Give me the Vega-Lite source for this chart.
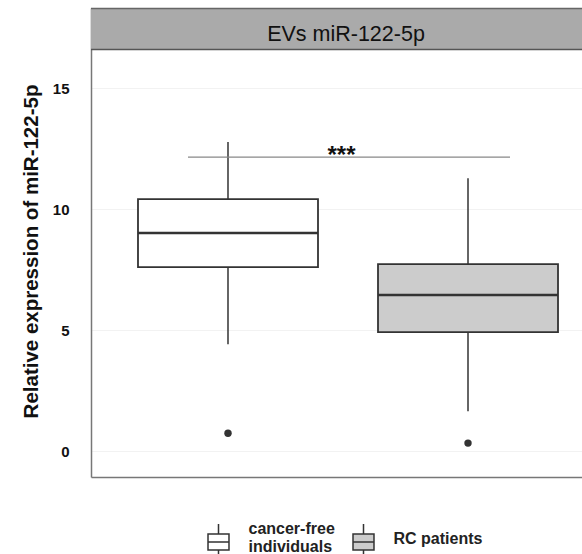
{
  "$schema": "https://vega.github.io/schema/vega-lite/v6.json",
  "autosize": {"type": "none"},
  "padding": {"left": 91, "top": 8, "right": 0, "bottom": 77},
  "width": 491,
  "height": 469,
  "background": "white",
  "config": {"view": {"stroke": null}, "font": "Liberation Sans"},
  "datasets": {
    "boxes": [
      {"group": "cancer-free individuals", "lower": 4.42, "q1": 7.60, "median": 9.01, "q3": 10.41, "upper": 12.77, "outlier": 0.74},
      {"group": "RC patients", "lower": 1.65, "q1": 4.92, "median": 6.45, "q3": 7.73, "upper": 11.28, "outlier": 0.33}
    ],
    "sig": [
      {"from": "cancer-free individuals", "to": "RC patients", "y": 12.15, "label": "***"}
    ],
    "strip": [
      {"label": "EVs miR-122-5p"}
    ]
  },
  "encoding": {
    "x": {
      "field": "group", "type": "nominal",
      "scale": {"domain": ["cancer-free individuals", "RC patients"], "range": [0, 514], "paddingInner": 0.25, "paddingOuter": 0.1958},
      "axis": {"labels": false, "ticks": false, "title": null, "grid": false, "domain": true, "domainColor": "#777777", "domainWidth": 1.5}
    }
  },
  "layer": [
    {
      "data": {"name": "strip"},
      "mark": {"type": "rect", "fill": "#aaaaaa"},
      "encoding": {
        "x": null,
        "y": {"datum": 16.59, "type": "quantitative",
          "scale": {"domain": [-1.07, 18.31], "nice": false, "zero": false},
          "axis": {
            "title": "Relative expression of miR-122-5p",
            "titleFont": "Liberation Sans", "titleFontWeight": "bold", "titleFontSize": 20.5, "titleColor": "#111111",
            "titlePadding": 11, "titleY": 243,
            "values": [0, 5, 10, 15],
            "labelFont": "Liberation Sans", "labelFontWeight": "bold", "labelFontSize": 15, "labelColor": "#111111",
            "labelPadding": 22, "ticks": false,
            "grid": true, "gridColor": "#f2f2f2",
            "domain": true, "domainColor": "#777777", "domainWidth": 1.5
          }
        },
        "y2": {"datum": 18.31}
      }
    },
    {
      "data": {"name": "boxes"},
      "mark": {"type": "rule", "color": "#333333", "strokeWidth": 1.5},
      "encoding": {
        "y": {"field": "lower", "type": "quantitative"},
        "y2": {"field": "upper"}
      }
    },
    {
      "data": {"name": "boxes"},
      "mark": {"type": "bar", "stroke": "#333333", "strokeWidth": 1.8},
      "encoding": {
        "y": {"field": "q1", "type": "quantitative"},
        "y2": {"field": "q3"},
        "fill": {
          "field": "group", "type": "nominal",
          "scale": {"domain": ["cancer-free individuals", "RC patients"], "range": ["#ffffff", "#cccccc"]},
          "legend": {
            "orient": "none", "legendX": 108.5, "legendY": 515,
            "direction": "horizontal", "title": null,
            "symbolType": "M-0.583,-0.444H0.583V0.444H-0.583Z M-0.583,0H0.583 M0,-0.444V-1 M0,0.444V1",
            "symbolSize": 1296,
            "symbolStrokeColor": "#333333", "symbolStrokeWidth": 1.5, "symbolOpacity": 1,
            "labelFont": "Liberation Sans", "labelFontWeight": "bold", "labelFontSize": 16, "labelColor": "#222222",
            "labelExpr": "datum.label == 'cancer-free individuals' ? ['cancer-free', 'individuals'] : datum.label",
            "labelLineHeight": 15, "labelBaseline": "alphabetic",
            "labelOffset": 11, "columnPadding": 9, "labelLimit": 200,
            "encode": {
              "labels": {"update": {"dy": {"signal": "datum.value == 'cancer-free individuals' ? -8 : 2"}}}
            }
          }
        }
      }
    },
    {
      "data": {"name": "boxes"},
      "mark": {"type": "tick", "color": "#333333", "size": 180, "thickness": 2.5, "opacity": 1},
      "encoding": {
        "y": {"field": "median", "type": "quantitative"}
      }
    },
    {
      "data": {"name": "boxes"},
      "mark": {"type": "point", "filled": true, "color": "#333333", "size": 55, "opacity": 1},
      "encoding": {
        "y": {"field": "outlier", "type": "quantitative"}
      }
    },
    {
      "data": {"name": "sig"},
      "mark": {"type": "rule", "color": "#888888", "strokeWidth": 1.2, "xOffset": -40, "x2Offset": 42},
      "encoding": {
        "x": {"field": "from", "type": "nominal"},
        "x2": {"field": "to"},
        "y": {"field": "y", "type": "quantitative"}
      }
    },
    {
      "data": {"name": "sig"},
      "mark": {"type": "text", "font": "Liberation Sans", "fontSize": 24, "fontWeight": "bold", "color": "#111111", "baseline": "alphabetic", "dy": 6, "dx": 5},
      "encoding": {
        "x": null,
        "y": {"field": "y", "type": "quantitative"},
        "text": {"field": "label"}
      }
    },
    {
      "data": {"name": "strip"},
      "mark": {"type": "text", "font": "Liberation Sans", "fontSize": 21.5, "color": "#111111", "baseline": "alphabetic", "dx": 9.5},
      "encoding": {
        "x": null,
        "y": {"datum": 16.94, "type": "quantitative"},
        "text": {"field": "label"}
      }
    },
    {
      "data": {"name": "strip"},
      "mark": {"type": "rule", "color": "#555555", "strokeWidth": 1.5},
      "encoding": {
        "x": null,
        "y": {"datum": 16.59, "type": "quantitative"}
      }
    },
    {
      "data": {"name": "strip"},
      "mark": {"type": "rule", "color": "#666666", "strokeWidth": 1.5},
      "encoding": {
        "x": null,
        "y": {"datum": 18.29, "type": "quantitative"}
      }
    }
  ]
}
